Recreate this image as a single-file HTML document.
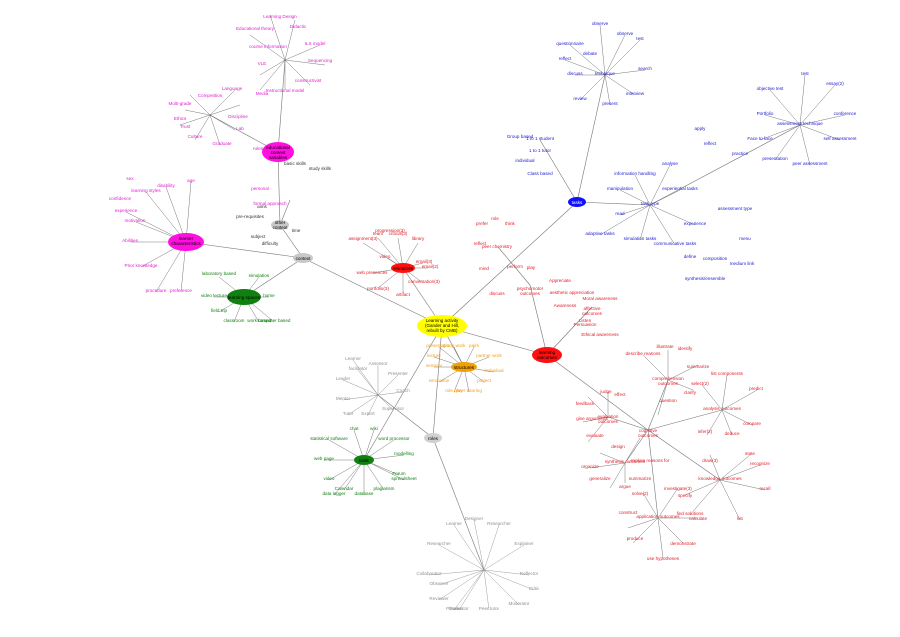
<!DOCTYPE html>
<html><head><meta charset="utf-8"><style>
html,body{margin:0;padding:0;background:#fff;width:900px;height:637px;overflow:hidden}
svg{display:block;font-family:"Liberation Sans",sans-serif}
.r text{fill:#e0202a}.b text{fill:#1a1ad0}.m text{fill:#e020d0}.g text{fill:#128012}.o text{fill:#f0a020}.k text{fill:#909090}.d text{fill:#333}
text{font-size:4.6px;text-anchor:middle}
line{stroke:#777;stroke-width:0.6}
.t line{stroke:#555;stroke-width:0.4}
</style></head><body>
<svg width="900" height="637" viewBox="0 0 900 637">
<!-- main trunks -->
<g>
<line x1="442" y1="326" x2="403" y2="268"/><line x1="442" y1="326" x2="577" y2="202"/>
<line x1="442" y1="326" x2="547" y2="355"/><line x1="442" y1="326" x2="464" y2="367"/>
<line x1="442" y1="326" x2="433" y2="438"/><line x1="442" y1="326" x2="303" y2="258"/>
<line x1="442" y1="326" x2="364" y2="460"/><line x1="433" y1="438" x2="378" y2="395"/>
<line x1="433" y1="438" x2="484" y2="570"/><line x1="303" y1="258" x2="280" y2="225"/>
<line x1="303" y1="258" x2="244" y2="297"/><line x1="303" y1="258" x2="186" y2="242"/>
<line x1="280" y1="225" x2="278" y2="152"/><line x1="547" y1="355" x2="648" y2="430"/>
<line x1="547" y1="355" x2="530" y2="285"/><line x1="577" y1="202" x2="540" y2="140"/>
<line x1="577" y1="202" x2="605" y2="75"/><line x1="577" y1="202" x2="650" y2="205"/>
<line x1="650" y1="205" x2="800" y2="125"/><line x1="530" y1="285" x2="498" y2="247"/>
<line x1="547" y1="355" x2="592" y2="307"/>
<line x1="648" y1="430" x2="608" y2="417"/><line x1="648" y1="430" x2="668" y2="380"/>
<line x1="648" y1="430" x2="722" y2="410"/><line x1="648" y1="430" x2="625" y2="463"/>
<line x1="648" y1="430" x2="658" y2="518"/><line x1="648" y1="430" x2="720" y2="480"/>
<line x1="278" y1="152" x2="285" y2="60"/><line x1="278" y1="152" x2="210" y2="115"/>
<line x1="280" y1="225" x2="290" y2="200"/>
</g>
<!-- spokes -->
<g class="t">
<path d="M403 268 l-40 -25 M403 268 l-25 -30 M403 268 l-5 -30 M403 268 l15 -25 M403 268 l20 -5 M403 268 l-30 5 M403 268 l-25 20 M403 268 l0 25 M403 268 l20 15 M403 268 l25 0 M403 268 l-15 -10" stroke="#555" stroke-width="0.4" fill="none"/>
<path d="M464 367 l-25 -20 M464 367 l-10 -20 M464 367 l10 -20 M464 367 l25 -10 M464 367 l30 5 M464 367 l20 15 M464 367 l5 25 M464 367 l-10 25 M464 367 l-25 15 M464 367 l-30 0 M464 367 l-30 -10" stroke="#555" stroke-width="0.4" fill="none"/>
<path d="M378 395 l-20 -25 M378 395 l-35 -15 M378 395 l-35 5 M378 395 l-30 20 M378 395 l0 -30 M378 395 l20 -20 M378 395 l25 -3 M378 395 l15 15 M378 395 l-10 20 M378 395 l-25 -35" stroke="#777" stroke-width="0.4" fill="none"/>
<path d="M364 460 l-35 -20 M364 460 l-40 0 M364 460 l-35 20 M364 460 l-20 30 M364 460 l0 35 M364 460 l20 30 M364 460 l35 15 M364 460 l40 -5 M364 460 l30 -20 M364 460 l10 -30 M364 460 l-10 -30 M364 460 l-30 35 M364 460 l40 20" stroke="#555" stroke-width="0.4" fill="none"/>
<path d="M484 570 l-30 -45 M484 570 l-45 -25 M484 570 l-55 5 M484 570 l-45 30 M484 570 l-25 40 M484 570 l5 40 M484 570 l35 35 M484 570 l45 5 M484 570 l40 -25 M484 570 l15 -45 M484 570 l-10 -50 M484 570 l-45 15 M484 570 l50 20 M484 570 l-30 40" stroke="#888" stroke-width="0.4" fill="none"/>
<path d="M244 297 l-25 -20 M244 297 l-30 0 M244 297 l-25 15 M244 297 l-10 25 M244 297 l15 25 M244 297 l30 25 M244 297 l25 0 M244 297 l15 -20" stroke="#555" stroke-width="0.4" fill="none"/>
<path d="M186 242 l-40 -50 M186 242 l-50 -20 M186 242 l-55 0 M186 242 l-45 25 M186 242 l-30 50 M186 242 l-5 50 M186 242 l-20 -55 M186 242 l5 -60 M186 242 l-60 -30" stroke="#555" stroke-width="0.4" fill="none"/>
<path d="M210 115 l-20 -20 M210 115 l-25 -5 M210 115 l-30 10 M210 115 l-15 25 M210 115 l10 30 M210 115 l25 15 M210 115 l30 -10 M210 115 l25 -25" stroke="#555" stroke-width="0.4" fill="none"/>
<path d="M285 60 l-15 -45 M285 60 l-35 -25 M285 60 l-25 15 M285 60 l10 -40 M285 60 l35 -15 M285 60 l40 5 M285 60 l25 25 M285 60 l0 30 M285 60 l-25 30" stroke="#555" stroke-width="0.4" fill="none"/>
<path d="M605 75 l-35 -30 M605 75 l-30 0 M605 75 l-25 25 M605 75 l5 30 M605 75 l30 20 M605 75 l40 -5 M605 75 l20 -40 M605 75 l-5 -50 M605 75 l35 -35 M605 75 l-40 -15" stroke="#555" stroke-width="0.4" fill="none"/>
<path d="M800 125 l-30 -35 M800 125 l-35 -10 M800 125 l-40 15 M800 125 l-25 35 M800 125 l10 40 M800 125 l40 15 M800 125 l45 -10 M800 125 l35 -40 M800 125 l5 -50" stroke="#555" stroke-width="0.4" fill="none"/>
<path d="M650 205 l-15 -30 M650 205 l-30 -15 M650 205 l-30 10 M650 205 l-10 35 M650 205 l25 40 M650 205 l45 20 M650 205 l30 -15 M650 205 l20 -40 M650 205 l-50 30" stroke="#555" stroke-width="0.4" fill="none"/>
<path d="M668 380 l-25 -25 M668 380 l0 -30 M668 380 l30 -15 M668 380 l25 10 M668 380 l-10 35 M722 410 l-20 -25 M722 410 l5 -35 M722 410 l35 -20 M722 410 l30 15 M722 410 l10 25 M722 410 l-15 25 M608 417 l-20 -20 M608 417 l-25 5 M608 417 l-20 25 M608 417 l0 -25 M625 463 l-35 5 M625 463 l-25 -10 M625 463 l-15 25 M625 463 l0 20 M625 463 l15 -25 M658 518 l-15 -25 M658 518 l-30 10 M658 518 l-25 25 M658 518 l5 40 M658 518 l40 0 M658 518 l25 25 M658 518 l20 -30 M720 480 l-10 -25 M720 480 l-35 15 M720 480 l-30 35 M720 480 l20 40 M720 480 l45 10 M720 480 l40 -15 M720 480 l30 -25" stroke="#555" stroke-width="0.4" fill="none"/>
</g>
<!-- nodes -->
<ellipse cx="442" cy="326" rx="25" ry="11" fill="#ffff00"/>
<text x="442" y="322" style="font-size:4.5px">Learning activity</text><text x="442" y="327" style="font-size:4.5px">(Gander and Hill,</text><text x="442" y="332" style="font-size:4.5px">rebuilt by CMB)</text>
<ellipse cx="464" cy="367" rx="13" ry="5" fill="#f0a000"/><text x="464" y="369">structures</text>
<ellipse cx="403" cy="268" rx="12" ry="5" fill="#ff1010"/><text x="403" y="270">resources</text>
<ellipse cx="547" cy="355" rx="15" ry="8" fill="#ff1010"/><text x="547" y="354">learning</text><text x="547" y="359">outcomes</text>
<ellipse cx="577" cy="202" rx="9" ry="5" fill="#1010ff"/><text x="577" y="204" fill="#fff">tasks</text>
<ellipse cx="278" cy="152" rx="16" ry="10" fill="#ff10e0"/><text x="278" y="149">educational</text><text x="278" y="154">context</text><text x="278" y="159">variables</text>
<ellipse cx="186" cy="242" rx="18" ry="9" fill="#ff10e0"/><text x="186" y="240">learner</text><text x="186" y="245">characteristics</text>
<ellipse cx="280" cy="225" rx="9" ry="5" fill="#c8c8c8"/><text x="280" y="224">other</text><text x="280" y="229">context</text>
<ellipse cx="303" cy="258" rx="10" ry="5" fill="#c8c8c8"/><text x="303" y="260">context</text>
<ellipse cx="244" cy="297" rx="17" ry="8" fill="#108010"/><text x="244" y="299">learning spaces</text>
<ellipse cx="364" cy="460" rx="10" ry="5" fill="#108010"/><text x="364" y="462">tools</text>
<ellipse cx="433" cy="438" rx="9" ry="5" fill="#d0d0d0"/><text x="433" y="440">roles</text>

<g class="r">
<text x="363" y="240">assignment(3)</text><text x="378" y="235">team</text><text x="398" y="235">critical(3)</text><text x="418" y="240">library</text><text x="424" y="263">email(3)</text><text x="372" y="274">web presences</text><text x="378" y="290">portfolio(3)</text><text x="403" y="296">artifact</text><text x="424" y="283">conversation(3)</text><text x="430" y="268">email(2)</text><text x="385" y="258">video</text><text x="390" y="232">progression(3)</text>
<text x="480" y="245">reflect</text><text x="497" y="248">peer chemistry</text><text x="484" y="270">mind</text><text x="515" y="268">perform</text><text x="531" y="269">play</text><text x="497" y="295">discuss</text><text x="530" y="290">psychomotor</text><text x="530" y="295">outcomes</text><text x="495" y="220">role</text><text x="482" y="225">prefer</text><text x="510" y="225">think</text>
<text x="560" y="282">Appreciate</text><text x="572" y="294">aesthetic appreciation</text><text x="565" y="307">Awareness</text><text x="592" y="310">affective</text><text x="592" y="315">outcomes</text><text x="600" y="300">Moral awareness</text><text x="585" y="326">Persuasion</text><text x="600" y="336">Ethical awareness</text><text x="585" y="322">Listen</text>
<text x="648" y="432">cognitive</text><text x="648" y="437">outcomes</text>
<text x="608" y="418">evaluation</text><text x="608" y="423">outcomes</text><text x="606" y="393">judge</text><text x="585" y="405">feedback</text><text x="592" y="420">give arguments</text><text x="595" y="437">evaluate</text><text x="620" y="396">effect</text>
<text x="668" y="380">comprehension</text><text x="668" y="385">outcomes</text><text x="643" y="355">describe reasons</text><text x="665" y="348">illustrate</text><text x="685" y="350">identify</text><text x="698" y="368">summarize</text><text x="690" y="394">clarify</text><text x="668" y="402">question</text>
<text x="722" y="410">analysis outcomes</text><text x="700" y="385">select(2)</text><text x="727" y="375">list components</text><text x="756" y="390">predict</text><text x="752" y="425">compare</text><text x="732" y="435">deduce</text><text x="705" y="433">infer(2)</text>
<text x="625" y="463">synthesis outcomes</text><text x="590" y="468">organize</text><text x="618" y="448">design</text><text x="600" y="480">generalize</text><text x="625" y="488">argue</text><text x="640" y="480">summarize</text><text x="650" y="462">explain reasons for</text>
<text x="658" y="518">application outcomes</text><text x="640" y="495">solve(2)</text><text x="628" y="514">construct</text><text x="635" y="540">produce</text><text x="663" y="560">use hypotheses</text><text x="698" y="520">calculate</text><text x="683" y="545">demonstrate</text><text x="678" y="490">investigate(3)</text>
<text x="720" y="480">knowledge outcomes</text><text x="710" y="462">draw(3)</text><text x="685" y="497">specify</text><text x="690" y="515">find solutions</text><text x="740" y="520">list</text><text x="765" y="490">recall</text><text x="760" y="465">recognize</text><text x="750" y="455">state</text>
</g>
<g class="b">
<text x="540" y="140">1 to 1 student</text><text x="540" y="152">1 to 1 tutor</text><text x="525" y="162">individual</text><text x="540" y="175">Class based</text><text x="520" y="138">Group based</text>
<text x="605" y="75">technique</text><text x="570" y="45">questionnaire</text><text x="575" y="75">discuss</text><text x="580" y="100">review</text><text x="610" y="105">present</text><text x="635" y="95">interview</text><text x="645" y="70">search</text><text x="625" y="35">observe</text><text x="600" y="25">observe</text><text x="640" y="40">test</text><text x="565" y="60">reflect</text><text x="590" y="55">debate</text>
<text x="800" y="125">assessment technique</text><text x="770" y="90">objective test</text><text x="765" y="115">Portfolio</text><text x="760" y="140">Face to face</text><text x="775" y="160">presentation</text><text x="810" y="165">peer assessment</text><text x="840" y="140">self assessment</text><text x="845" y="115">conference</text><text x="835" y="85">essay(2)</text><text x="805" y="75">test</text>
<text x="650" y="205">task type</text><text x="635" y="175">information handling</text><text x="620" y="190">manipulation</text><text x="620" y="215">read</text><text x="640" y="240">simulation tasks</text><text x="675" y="245">communicative tasks</text><text x="695" y="225">experience</text><text x="680" y="190">experiential tasks</text><text x="670" y="165">analyse</text><text x="600" y="235">adaptive tasks</text>
<text x="700" y="130">apply</text><text x="710" y="145">reflect</text><text x="740" y="155">practice</text><text x="735" y="210">assessment type</text><text x="715" y="260">composition</text><text x="745" y="240">menu</text><text x="742" y="265">medium link</text><text x="705" y="280">synthesis/ensemble</text><text x="690" y="258">define</text>
</g>
<g class="m">
<text x="280" y="18">Learning Design</text><text x="255" y="30">Educational theory</text><text x="268" y="48">course information</text><text x="262" y="65">VLE</text><text x="315" y="45">ILS model</text><text x="320" y="62">Sequencing</text><text x="308" y="82">constructivist</text><text x="285" y="92">Instructional model</text><text x="262" y="95">Media</text><text x="298" y="28">Didactic</text>
<text x="210" y="97">Competition</text><text x="180" y="105">Multi-grade</text><text x="180" y="120">Ethics</text><text x="195" y="138">Culture</text><text x="222" y="145">Graduate</text><text x="240" y="130">Lab</text><text x="238" y="118">Discipline</text><text x="232" y="90">Language</text><text x="185" y="128">Trust</text>
<text x="146" y="192">learning styles</text><text x="135" y="222">motivation</text><text x="130" y="242">Abilities</text><text x="141" y="267">Prior knowledge</text><text x="156" y="292">procedure</text><text x="181" y="292">preference</text><text x="166" y="187">disability</text><text x="191" y="182">age</text><text x="126" y="212">experience</text><text x="120" y="200">confidence</text><text x="130" y="180">sex</text>
<text x="258" y="150">rules</text><text x="260" y="190">personal</text><text x="270" y="205">formal approach</text>
</g>
<g class="d">
<text x="295" y="165">basic skills</text><text x="320" y="170">study skills</text><text x="262" y="208">aims</text><text x="250" y="218">pre-requisites</text><text x="258" y="238">subject</text><text x="270" y="245">difficulty</text><text x="296" y="232">time</text>
</g>
<g class="g">
<text x="219" y="275">laboratory based</text><text x="214" y="297">video lecture</text><text x="219" y="312">field trip</text><text x="234" y="322">classroom</text><text x="259" y="322">work based</text><text x="274" y="322">computer based</text><text x="269" y="297">home</text><text x="259" y="277">simulation</text>
<text x="329" y="440">statistical software</text><text x="324" y="460">web page</text><text x="329" y="480">video</text><text x="344" y="490">Calendar</text><text x="364" y="495">database</text><text x="384" y="490">plagiarism</text><text x="399" y="475">Forum</text><text x="404" y="455">modelling</text><text x="394" y="440">word processor</text><text x="374" y="430">wiki</text><text x="354" y="430">chat</text><text x="334" y="495">data logger</text><text x="404" y="480">spreadsheet</text>
</g>
<g class="o">
<text x="439" y="347">presentation</text><text x="454" y="347">group work</text><text x="474" y="347">pairs</text><text x="489" y="357">partner work</text><text x="494" y="372">individual</text><text x="484" y="382">project</text><text x="469" y="392">peer tutoring</text><text x="454" y="392">role play</text><text x="439" y="382">simulation</text><text x="434" y="367">seminar</text><text x="434" y="357">lecture</text>
</g>
<g class="k">
<text x="358" y="370">facilitator</text><text x="343" y="380">Leader</text><text x="343" y="400">Mentor</text><text x="348" y="415">Tutor</text><text x="378" y="365">Assessor</text><text x="398" y="375">Presenter</text><text x="403" y="392">Coach</text><text x="393" y="410">Supervisor</text><text x="368" y="415">Expert</text><text x="353" y="360">Learner</text>
<text x="454" y="525">Learner</text><text x="439" y="545">Researcher</text><text x="429" y="575">Collaborator</text><text x="439" y="600">Reviewer</text><text x="459" y="610">Evaluator</text><text x="489" y="610">Peer tutor</text><text x="519" y="605">Moderator</text><text x="529" y="575">Reflector</text><text x="524" y="545">Explainer</text><text x="499" y="525">Researcher</text><text x="474" y="520">Designer</text><text x="439" y="585">Observer</text><text x="534" y="590">Critic</text><text x="454" y="610">Planner</text>
</g>
</svg>
</body></html>
